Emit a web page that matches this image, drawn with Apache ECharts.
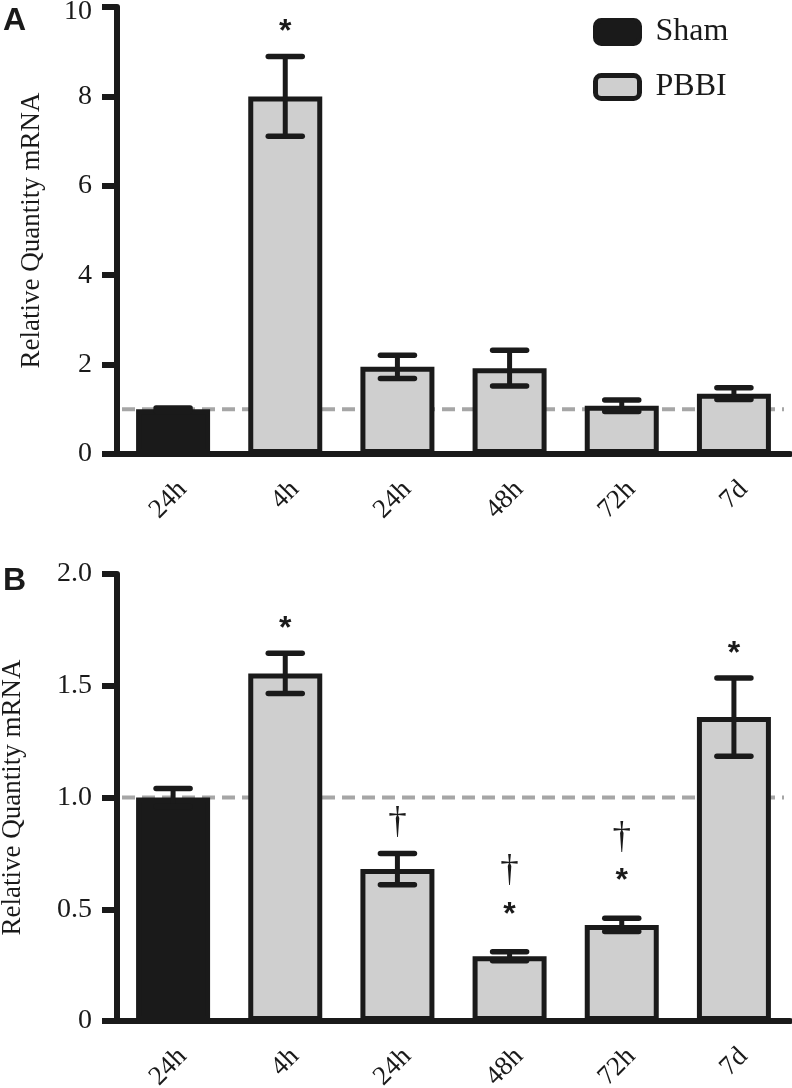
<!DOCTYPE html>
<html>
<head>
<meta charset="utf-8">
<script src="https://cdn.jsdelivr.net/npm/echarts@6/dist/echarts.min.js"></script>
<style>html,body{margin:0;padding:0;background:#fff}#c{width:792px;height:1088px}</style>
</head>
<body>
<div id="c"></div>
<script>
// ---- data ----
const categories = ['24h', '4h', '24h', '48h', '72h', '7d'];
const groups = ['Sham', 'PBBI', 'PBBI', 'PBBI', 'PBBI', 'PBBI'];
const meanA = [1.0, 8.0, 1.95, 1.92, 1.08, 1.35];
const semA  = [0.03, 0.89, 0.26, 0.40, 0.13, 0.13];
const starsA   = [0, 1, 0, 0, 0, 0];
const daggersA = [0, 0, 0, 0, 0, 0];
const meanB = [1.0, 1.555, 0.68, 0.29, 0.43, 1.36];
const semB  = [0.04, 0.09, 0.07, 0.02, 0.03, 0.175];
const starsB   = [0, 1, 0, 1, 1, 1];
const daggersB = [0, 0, 1, 1, 1, 0];
const yTicksA = { min: 0, max: 10, interval: 2 };
const yTicksB = { min: 0, max: 2, interval: 0.5 };
const yTitle = 'Relative Quantity mRNA';
const refLevel = 1.0;
const panelLabels = ['A', 'B'];

// ---- styles ----
const INK = '#1a1a1a';
const GRAY = '#cfcfcf';
const SERIF = 'Liberation Serif';
const SANS = '"Liberation Sans", Arial, sans-serif';

const panels = [
  { mean: meanA, sem: semA, stars: starsA, daggers: daggersA, ticks: yTicksA, top: 7, nameGap: 72,
    fmt: v => v === yTicksA.max ? '{t|' + v + '}' : String(v) },
  { mean: meanB, sem: semB, stars: starsB, daggers: daggersB, ticks: yTicksB, top: 574, nameGap: 91,
    fmt: v => v === 0 ? '0' : v.toFixed(1) }
];

const grids = [], xAxes = [], yAxes = [], series = [];
panels.forEach((p, g) => {
  grids.push({ left: 117, width: 673, top: p.top, height: 447, containLabel: false, outerBoundsMode: 'none' });
  xAxes.push({
    gridIndex: g, type: 'category', data: categories,
    axisLine: { lineStyle: { color: INK, width: 6 } },
    axisTick: { alignWithLabel: true, length: 14, lineStyle: { color: INK, width: 6 } },
    axisLabel: { rotate: 45, verticalAlign: 'top', margin: 22, fontFamily: SERIF, fontSize: 27, color: INK, interval: 0 },
    splitLine: { show: false }
  });
  yAxes.push({
    gridIndex: g, type: 'value', min: p.ticks.min, max: p.ticks.max, interval: p.ticks.interval,
    axisLine: { show: true, lineStyle: { color: INK, width: 6 } },
    axisTick: { show: true, length: 15, lineStyle: { color: INK, width: 6 } },
    axisLabel: { margin: 25, fontFamily: SERIF, fontSize: 28, color: INK, formatter: p.fmt,
      rich: { t: { fontFamily: SERIF, fontSize: 28, color: INK, padding: [10, 0, 0, 0] } } },
    splitLine: { show: false },
    name: yTitle, nameLocation: 'middle', nameGap: p.nameGap,
    nameTextStyle: { fontFamily: SERIF, fontSize: 27, color: INK }
  });
  // dashed reference line
  series.push({
    type: 'custom', xAxisIndex: g, yAxisIndex: g, z: 1, silent: true,
    data: [[0, refLevel]],
    renderItem: (params, api) => {
      const cs = params.coordSys;
      const y = api.coord([0, api.value(1)])[1];
      return { type: 'line', shape: { x1: cs.x + 5, y1: y, x2: cs.x + cs.width - 6, y2: y },
        style: { stroke: '#a6a6a6', lineWidth: 4, lineDash: [13, 7] } };
    }
  });
  ['Sham', 'PBBI'].forEach(name => {
    series.push({
      name, type: 'bar', xAxisIndex: g, yAxisIndex: g, z: 2,
      barWidth: 74, barGap: '-100%',
      itemStyle: { color: name === 'Sham' ? INK : GRAY, borderColor: INK, borderWidth: 5 },
      data: p.mean.map((m, i) => groups[i] === name ? m : '-')
    });
  });
  // error bars
  series.push({
    type: 'custom', xAxisIndex: g, yAxisIndex: g, z: 3, silent: true,
    dimensions: ['x', 'y', 's'], encode: { x: 0, y: 1 },
    data: p.mean.map((m, i) => [i, m, p.sem[i]]),
    renderItem: (params, api) => {
      const x = api.value(0), m = api.value(1), s = api.value(2);
      const t = api.coord([x, m + s]), b = api.coord([x, m - s]);
      const hw = 17;
      const st = { stroke: INK, lineWidth: 5.5, lineCap: 'round' };
      return { type: 'group', children: [
        { type: 'line', shape: { x1: t[0], y1: t[1], x2: b[0], y2: b[1] }, style: { stroke: INK, lineWidth: 5 } },
        { type: 'line', shape: { x1: t[0] - hw, y1: t[1], x2: t[0] + hw, y2: t[1] }, style: st },
        { type: 'line', shape: { x1: b[0] - hw, y1: b[1], x2: b[0] + hw, y2: b[1] }, style: st }
      ] };
    }
  });
  // significance marks
  series.push({
    type: 'custom', xAxisIndex: g, yAxisIndex: g, z: 4, silent: true,
    dimensions: ['x', 'y', 'star', 'dag'], encode: { x: 0, y: 1 },
    data: p.mean.map((m, i) => [i, m + p.sem[i], p.stars[i], p.daggers[i]]).filter(d => d[2] || d[3]),
    renderItem: (params, api) => {
      const t = api.coord([api.value(0), api.value(1)]);
      const star = api.value(2), dag = api.value(3);
      const kids = [];
      const starOff = dag ? 44 : 31;
      const dagOff = star ? 78 : 28;
      if (star) kids.push({ type: 'text', x: t[0], y: t[1] - starOff + 7,
        style: { text: '*', font: 'bold 32px ' + SANS, fill: INK, align: 'center', verticalAlign: 'middle' } });
      if (dag) kids.push({ type: 'text', x: t[0], y: t[1] - dagOff - 2,
        style: { text: '\u2020', font: '37px "Liberation Serif"', fill: INK, align: 'center', verticalAlign: 'middle' } });
      return { type: 'group', children: kids };
    }
  });
});

const chart = echarts.init(document.getElementById('c'), null, { renderer: 'canvas' });
chart.setOption({
  animation: false,
  backgroundColor: '#fff',
  textStyle: { fontFamily: SERIF },
  grid: grids, xAxis: xAxes, yAxis: yAxes, series,
  legend: {
    data: ['Sham', 'PBBI'], orient: 'vertical', left: 593, top: 16, padding: 0,
    itemWidth: 44, itemHeight: 23, itemGap: 23, icon: 'roundRect', selectedMode: false,
    itemStyle: { borderWidth: 5 },
    textStyle: { fontFamily: SERIF, fontSize: 32, color: INK, padding: [0, 0, 0, 11] }
  },
  graphic: [
    { type: 'text', left: 3, top: 5, style: { text: panelLabels[0], font: 'bold 32px ' + SANS, fill: INK } },
    { type: 'text', left: 3, top: 565, style: { text: panelLabels[1], font: 'bold 32px ' + SANS, fill: INK } }
  ]
});
</script>
</body>
</html>
